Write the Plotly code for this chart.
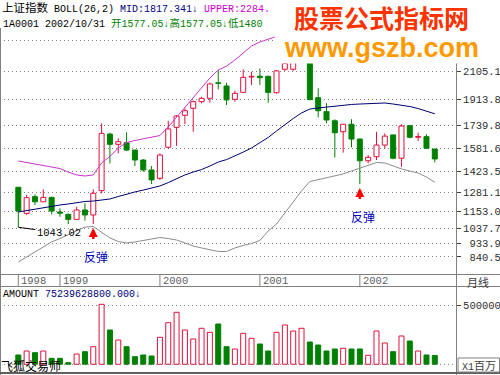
import plotly.graph_objects as go

# ---------------- data ----------------
months = ["1998-08", "1998-09", "1998-10", "1998-11", "1998-12",
          "1999-01", "1999-02", "1999-03", "1999-04", "1999-05", "1999-06",
          "1999-07", "1999-08", "1999-09", "1999-10", "1999-11", "1999-12",
          "2000-01", "2000-02", "2000-03", "2000-04", "2000-05", "2000-06",
          "2000-07", "2000-08", "2000-09", "2000-10", "2000-11", "2000-12",
          "2001-01", "2001-02", "2001-03", "2001-04", "2001-05", "2001-06",
          "2001-07", "2001-08", "2001-09", "2001-10", "2001-11", "2001-12",
          "2002-01", "2002-02", "2002-03", "2002-04", "2002-05", "2002-06",
          "2002-07", "2002-08", "2002-09", "2002-10"]

open_ = [1316, 1138, 1252, 1217, 1247, 1147, 1131, 1097, 1161, 1127, 1293,
         1679, 1609, 1620, 1570, 1502, 1434, 1377, 1589, 1725, 1807, 1855,
         1900, 1923, 2029, 2007, 1916, 1964, 2068, 2074, 2073, 1961, 2121,
         2121, 2210, 2220, 1927, 1832, 1770, 1695, 1746, 1645, 1497, 1524,
         1604, 1673, 1514, 1736, 1657, 1661, 1577.05]
high = [1318, 1263, 1268, 1302, 1252, 1172, 1138, 1183, 1207, 1302, 1752,
        1688, 1650, 1691, 1570, 1507, 1461, 1547, 1770, 1809, 1855, 1907,
        1934, 2029, 2116, 2029, 1975, 2121, 2104, 2126, 2077, 2115, 2200,
        2232, 2245, 2230, 1991, 1889, 1780, 1748, 1780, 1648, 1536, 1695,
        1684, 1675, 1746, 1741, 1688, 1677, 1577.05]
low = [1043.02, 1127, 1195, 1217, 1131, 1115, 1065, 1093, 1088, 1065, 1275,
       1479, 1547, 1565, 1461, 1422, 1338, 1366, 1580, 1598, 1748, 1695,
       1889, 1893, 1984, 1877, 1900, 1961, 2013, 2013, 1893, 1955, 2110,
       2110, 2162, 1910, 1793, 1752, 1520, 1552, 1589, 1338, 1480, 1502,
       1577, 1507, 1456, 1650, 1632, 1577, 1485]
close = [1154, 1245, 1217, 1247, 1154, 1139, 1097, 1161, 1127, 1275, 1684,
         1609, 1627, 1570, 1502, 1434, 1366, 1536, 1714, 1802, 1838, 1900,
         1923, 2021, 2025, 1912, 1957, 2066, 2073, 2064, 1963, 2110, 2160,
         2214, 2218, 1914, 1838, 1775, 1688, 1746, 1645, 1497, 1520, 1604,
         1665, 1514, 1734, 1657, 1662, 1582, 1509]

boll_mid = [1147, 1157, 1168, 1178, 1188, 1195, 1202, 1212, 1219, 1222, 1229,
            1236, 1253, 1270, 1284, 1297, 1311, 1325, 1348, 1376, 1400, 1420,
            1437, 1461, 1488, 1505, 1529, 1556, 1584, 1618, 1656, 1700, 1744,
            1785, 1823, 1850, 1857, 1864, 1870, 1874, 1881, 1884, 1888, 1891,
            1891, 1884, 1877, 1867, 1853, 1836, 1817.341]
boll_upper = [1495, 1485, 1478, 1468, 1458, 1444, 1420, 1400, 1393, 1400, 1482,
              1526, 1584, 1621, 1635, 1645, 1656, 1669, 1727, 1795, 1864, 1932,
              2000, 2061, 2116, 2143, 2184, 2232, 2280, 2307, 2324, 2345, 2400,
              2450, 2480, 2490, 2480, 2460, 2440, 2410, 2390, 2380, 2370, 2360,
              2350, 2340, 2330, 2320, 2305, 2295, 2284.0]
boll_lower = [806, 840, 878, 912, 943, 966, 994, 1021, 1045, 1048, 1011,
              970, 946, 936, 943, 953, 963, 973, 966, 956, 936, 915,
              902, 888, 878, 878, 902, 919, 932, 953, 1018, 1065, 1140,
              1209, 1291, 1355, 1369, 1379, 1393, 1407, 1427, 1447, 1468, 1485,
              1482, 1461, 1441, 1427, 1413, 1386, 1350.37]

amount_mn = [79400, 113500, 99000, 113500, 51200, 51200, 13700, 87900, 107500,
             150200, 511900, 292600, 207300, 150200, 64800, 79400, 70800,
             230400, 354900, 443700, 292600, 215900, 307200, 273000, 343800,
             150200, 130500, 264500, 221800, 173200, 113500, 273000, 335300,
             284100, 307200, 190300, 164700, 113500, 130500, 136500, 130500,
             130500, 76800, 284100, 181700, 107500, 241500, 198800, 113500,
             79400, 75240]

price_ticks = [840.5, 933.9, 1037.7, 1153.0, 1281.1, 1423.5, 1581.6,
               1739.8, 1913.8, 2105.1, 2315.6]
hidden_ticks = [2315.6]          # label lies under the watermark
year_labels = ["1998", "1999", "2000", "2001", "2002"]
year_start = ["1998-08", "1999-01", "2000-01", "2001-01", "2002-01"]
rebound_months = ["1999-05", "2002-01"]

# ---------------- styling ----------------
W, H = 500, 375
RED = "#E0103C"
GREEN = "#008000"
MONO = "Liberation Mono, DejaVu Sans Mono, monospace"
CJK = "Noto Sans CJK SC"


def px(x):
    return x / W


def py(y):
    return 1 - y / H


n = len(months)
xi = list(range(n))
up = [c >= o for o, c in zip(open_, close)]

fig = go.Figure()


def wicks(is_up):
    xs, ys = [], []
    for i in range(n):
        if up[i] != is_up:
            continue
        top = max(open_[i], close[i])
        bot = min(open_[i], close[i])
        if high[i] > top:
            xs += [i, i, None]
            ys += [top, high[i], None]
        if low[i] < bot:
            xs += [i, i, None]
            ys += [low[i], bot, None]
    return xs, ys


for is_up, col in [(True, RED), (False, GREEN)]:
    xs, ys = wicks(is_up)
    fig.add_trace(go.Scatter(x=xs, y=ys, mode="lines",
                             line=dict(color=col, width=1),
                             hoverinfo="skip", showlegend=False))

for is_up, fill, col in [(True, "white", RED), (False, GREEN, GREEN)]:
    idx = [i for i in range(n) if up[i] == is_up]
    fig.add_trace(go.Bar(
        x=idx,
        base=[min(open_[i], close[i]) for i in idx],
        y=[max(abs(close[i] - open_[i]), 2) for i in idx],
        width=0.6, marker=dict(color=fill, line=dict(color=col, width=1)),
        showlegend=False, hovertext=[months[i] for i in idx]))

for vals, col in [(boll_upper, "#CC33CC"), (boll_mid, "#000070"),
                  (boll_lower, "#8C8C8C")]:
    fig.add_trace(go.Scatter(x=xi, y=vals, mode="lines",
                             line=dict(color=col, width=1),
                             showlegend=False, hoverinfo="skip"))

for is_up, fill, col in [(True, "white", RED), (False, GREEN, GREEN)]:
    idx = [i for i in range(n) if up[i] == is_up]
    fig.add_trace(go.Bar(
        x=idx, y=[amount_mn[i] for i in idx], width=0.6,
        marker=dict(color=fill, line=dict(color=col, width=1)),
        xaxis="x2", yaxis="y2", showlegend=False))

# ---------------- layout ----------------
x0 = -18.3 / 8.33
x1 = x0 + 456 / 8.33
grid = dict(showgrid=True, gridcolor="#808080", griddash="1px,3px",
            gridwidth=1, zeroline=False, showline=False)

fig.update_layout(
    width=W, height=H, margin=dict(l=0, r=0, t=0, b=0),
    paper_bgcolor="white", plot_bgcolor="white", barmode="overlay",
    xaxis=dict(domain=[0, px(456)], range=[x0, x1], visible=False,
               anchor="y"),
    xaxis2=dict(domain=[0, px(456)], range=[x0, x1], visible=False,
                anchor="y2", matches="x"),
    yaxis=dict(domain=[py(274), py(28)], range=[724.2, 2402.7],
               side="right", anchor="x", tickmode="array",
               tickvals=price_ticks,
               ticktext=["" if v in hidden_ticks else
                         ("\u00a0" if v < 1000 else "") + f"{v:.1f}"
                         for v in price_ticks],
               ticks="outside", ticklen=4, tickcolor="#404040",
               tickfont=dict(family=MONO, size=10.5, color="#303030"),
               **grid),
    yaxis2=dict(domain=[py(373), py(287)], range=[-74230, 659520],
                side="right", anchor="x2", tickmode="array",
                tickvals=[500000], ticktext=["500000"],
                ticks="outside", ticklen=4, tickcolor="#404040",
                tickfont=dict(family=MONO, size=10.5, color="#303030"),
                **grid),
)

shapes = []


def hline(y, xa, xb, col="#808080", w=1):
    shapes.append(dict(type="line", xref="paper", yref="paper",
                       x0=px(xa), x1=px(xb), y0=py(y), y1=py(y),
                       line=dict(color=col, width=w)))


def vline(x, ya, yb, col="#808080", w=1):
    shapes.append(dict(type="line", xref="paper", yref="paper",
                       x0=px(x), x1=px(x), y0=py(ya), y1=py(yb),
                       line=dict(color=col, width=w)))


vline(0.5, 28, 375)
vline(456.5, 28, 375)
hline(274.5, 0, 500)
hline(286.5, 0, 500)
hline(373, 0, 500, "#606060", 2)
for m in year_start:
    i = months.index(m)
    shapes.append(dict(type="line", xref="x", yref="paper", x0=i, x1=i,
                       y0=py(286.5), y1=py(274.5),
                       line=dict(color="#808080", width=1)))
shapes.append(dict(type="line", xref="x2", yref="y2", x0=x0, x1=x1,
                   y0=0, y1=0,
                   line=dict(color="#808080", width=1, dash="1px,3px")))
# box for unit label
shapes.append(dict(type="rect", xref="paper", yref="paper",
                   x0=px(458), x1=px(499.5), y0=py(372), y1=py(358),
                   line=dict(color="#808080", width=1), fillcolor="white"))
fig.update_layout(shapes=shapes)

ann = []


def cjk(t, size=11):
    return f'<span style="font-family:{CJK};font-size:{size}px">{t}</span>'


row1 = (cjk("上证指数", 11.5) + " BOLL(26,2) "
        + '<span style="color:#000080">MID:1817.341↓</span> '
        + '<span style="color:#CC00CC">UPPER:2284.</span>')
row2 = ("1A0001 2002/10/31 <span style=\"color:#008000\">"
        + cjk("开", 10.5) + "1577.05↓" + cjk("高", 10.5) + "1577.05↓"
        + cjk("低", 10.5) + "1480</span>")
ann.append(dict(x=px(1), y=py(7), xref="paper", yref="paper",
                xanchor="left", yanchor="middle", showarrow=False,
                text=row1, borderpad=0,
                font=dict(family=MONO, size=10, color="black")))
ann.append(dict(x=px(2), y=py(22.5), xref="paper", yref="paper",
                xanchor="left", yanchor="middle", showarrow=False,
                text=row2, borderpad=0,
                font=dict(family=MONO, size=10, color="black")))

# watermark (white box + two texts)
ann.append(dict(x=px(274), y=py(4), xref="paper", yref="paper",
                xanchor="left", yanchor="top", showarrow=False, text=" ",
                width=226, height=58, bgcolor="white", borderpad=0))
ann.append(dict(x=px(381.5), y=py(17), xref="paper", yref="paper",
                xanchor="center", yanchor="middle", showarrow=False,
                text="<b>股票公式指标网</b>", borderpad=0,
                font=dict(family=CJK, size=25, color="#FF3300")))
ann.append(dict(x=px(381.5), y=py(48), xref="paper", yref="paper",
                xanchor="center", yanchor="middle", showarrow=False,
                text="<b>www.gszb.com</b>", borderpad=0,
                font=dict(family="Liberation Sans, Arial", size=27,
                          color="#FF9900")))

# low marker
ann.append(dict(x=0, y=min(low), xref="x", yref="y", text=f"{min(low):.2f}",
                showarrow=True, arrowhead=0, arrowwidth=1, arrowcolor="black",
                ax=40.5, ay=5.5, font=dict(family=MONO, size=10.5,
                                           color="black")))

# rebound arrows (stem + head) and labels
for m in rebound_months:
    i = months.index(m)
    ann.append(dict(x=i, y=low[i], xref="x", yref="y", text=" ",
                    showarrow=True, arrowhead=0, arrowwidth=2.5,
                    arrowcolor="#FF0000", ax=0, ay=17, standoff=8,
                    font=dict(size=1)))
    ann.append(dict(x=i, y=low[i], xref="x", yref="y", text=" ",
                    showarrow=True, arrowhead=2, arrowsize=0.6,
                    arrowwidth=3, arrowcolor="#FF0000", ax=0, ay=12,
                    standoff=4, font=dict(size=1)))
    ann.append(dict(x=i, y=low[i], xref="x", yref="y", text="反弹",
                    showarrow=False, xshift=3, yshift=-32,
                    yanchor="middle",
                    font=dict(family=CJK, size=12, color="#0000C0")))

# year labels
for lab, m in zip(year_labels, year_start):
    ann.append(dict(x=months.index(m), y=py(280.5), xref="x", yref="paper",
                    xanchor="left", yanchor="middle", showarrow=False,
                    text=lab, xshift=1,
                    font=dict(family=MONO, size=10.5, color="#606060")))
ann.append(dict(x=px(478), y=py(282), xref="paper", yref="paper",
                xanchor="center", yanchor="middle",
                showarrow=False, text="月线", borderpad=0,
                font=dict(family=CJK, size=11, color="#404040")))

# volume header and footer
ann.append(dict(x=px(2), y=py(294.5), xref="paper", yref="paper",
                xanchor="left", yanchor="middle", showarrow=False,
                borderpad=0,
                text='AMOUNT <span style="color:#000080">'
                     '75239628800.000↓</span>',
                font=dict(family=MONO, size=10, color="black")))
ann.append(dict(x=px(0), y=py(365.5), xref="paper", yref="paper",
                xanchor="left", yanchor="middle", showarrow=False,
                borderpad=0, text="飞狐交易师",
                font=dict(family=CJK, size=12, color="black")))
ann.append(dict(x=px(479), y=py(365), xref="paper", yref="paper",
                xanchor="center", yanchor="middle", showarrow=False,
                borderpad=0, text="X1" + cjk("百万", 11),
                font=dict(family=MONO, size=10, color="#404040")))

fig.update_layout(annotations=ann)
fig.write_html("out.html")
